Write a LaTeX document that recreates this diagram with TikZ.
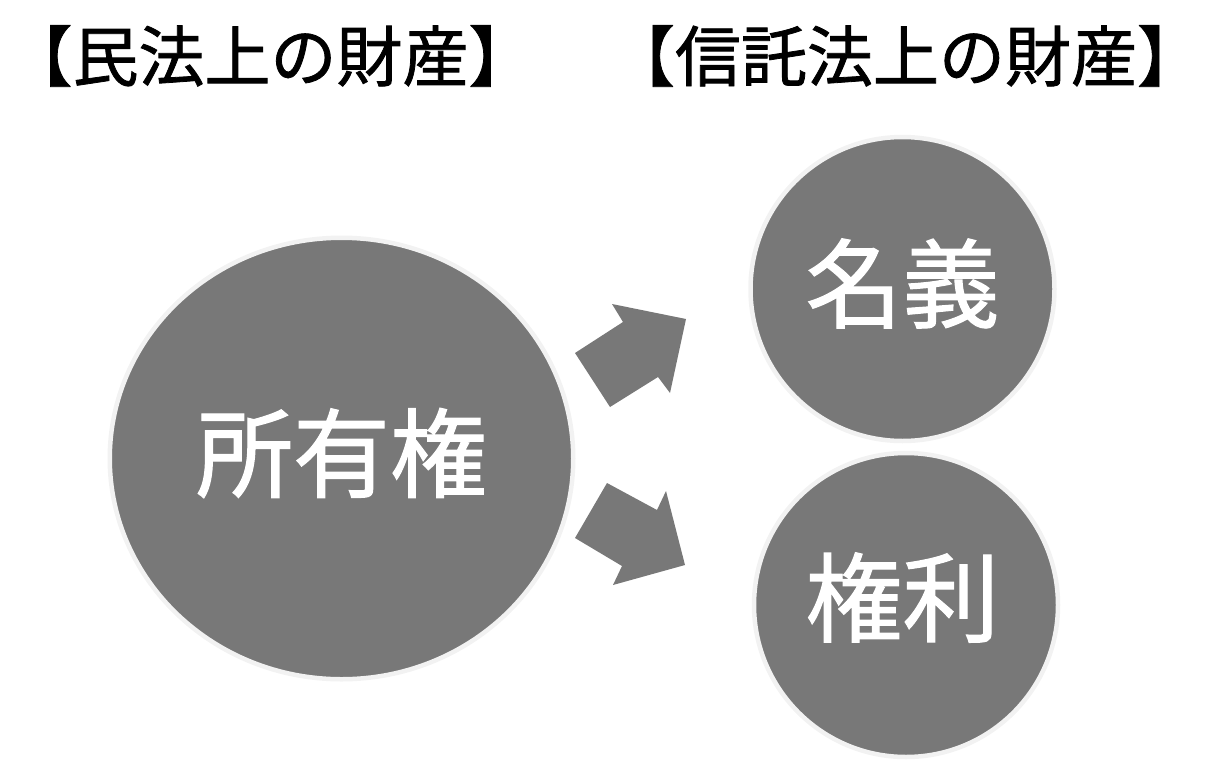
\documentclass[tikz,border=0pt]{standalone}
\usepackage{fontspec}
\setmainfont{Noto Sans CJK JP}[FakeBold=1.2]
\usetikzlibrary{shapes.geometric}
\definecolor{disc}{HTML}{787878}
\definecolor{rim}{HTML}{F2F2F2}
\tikzset{
  zaisan/.style={shape=ellipse, fill=disc, draw=rim, line width=2.25pt, inner sep=0pt},
  midashi/.style={anchor=base, inner sep=0pt, font=\fontsize{33}{40}\selectfont},
  naiyou/.style={text=white, inner sep=0pt, font=\fontsize{48.5}{58}\selectfont},
  yajirushi/.style={fill=disc}
}
\begin{document}
\begin{tikzpicture}[x=0.5pt, y=-0.5pt]
  \useasboundingbox (0, 0) rectangle (1222, 782);

  \node[midashi] (minpou) at (270.5, 81) {【民法上の財産】};
  \node[midashi] (shintaku) at (906, 81) {【信託法上の財産】};

  \node[zaisan, minimum width=231.75pt, minimum height=220.75pt] (shoyuu) at (341.5, 458.5) {};
  \node[zaisan, minimum size=152pt] (meigi) at (902.5, 289) {};
  \node[zaisan, minimum size=152pt] (kenri) at (906, 605) {};

  \node[naiyou] (shoyuutext) at ([yshift=2.75pt]shoyuu.center) {所有権};
  \node[naiyou] (meigitext) at ([yshift=2.75pt]meigi.center) {名義};
  \node[naiyou] (kenritext) at ([xshift=-1.75pt, yshift=3.75pt]kenri.center) {権利};

  % block arrows
  \fill[yajirushi] (575, 353) -- (623, 322) -- (612, 304) -- (686, 319) -- (670, 393) -- (658, 377) -- (610, 407) -- cycle;
  \fill[yajirushi] (575, 538) -- (622, 566) -- (613, 585) -- (685, 565) -- (666, 491) -- (657, 510) -- (607, 483) -- cycle;
\end{tikzpicture}
\end{document}
